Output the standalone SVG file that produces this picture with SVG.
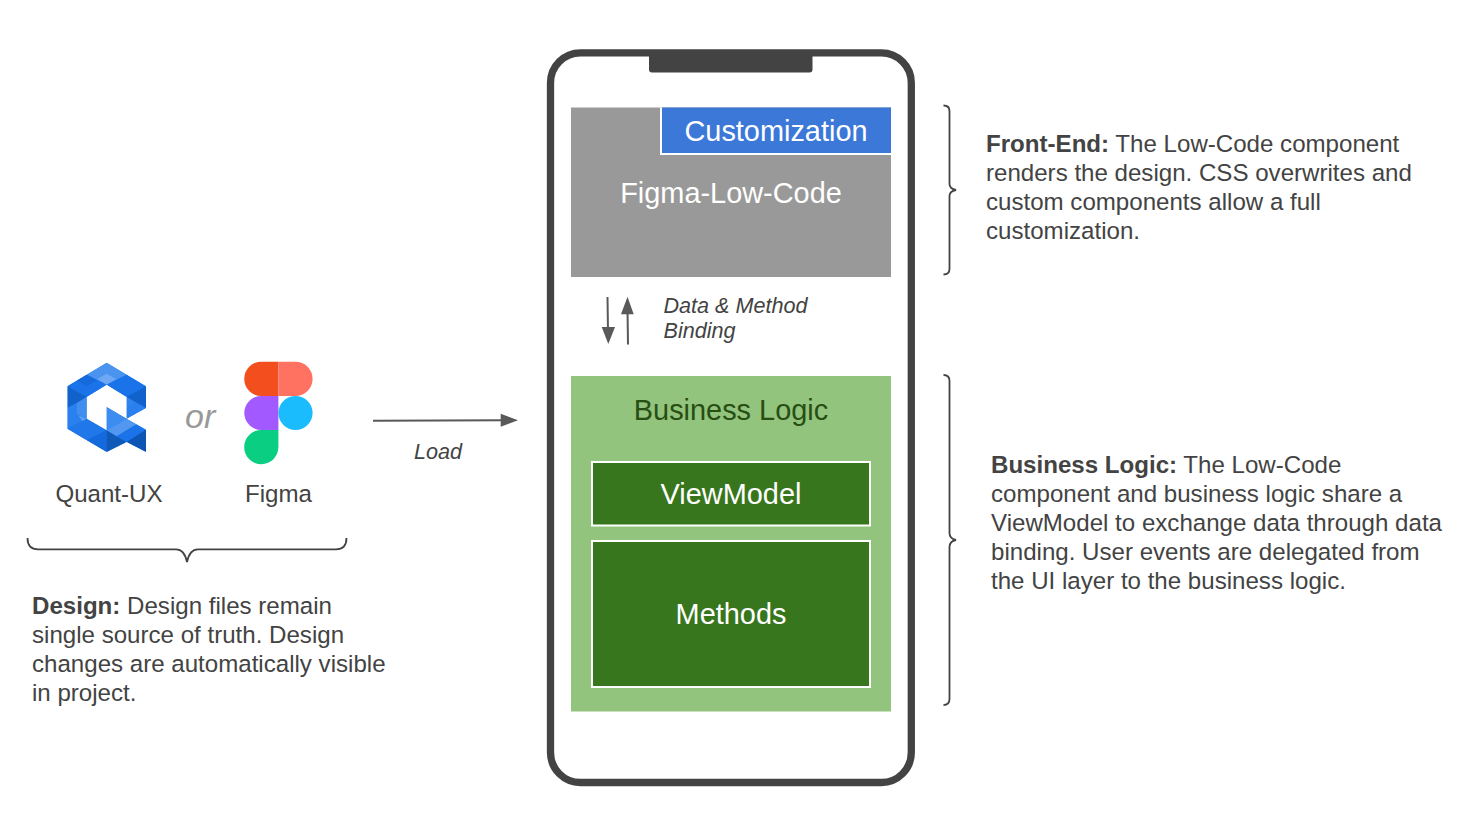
<svg xmlns="http://www.w3.org/2000/svg" width="1476" height="837" viewBox="0 0 1476 837">
<defs>
<style>
text{font-family:"Liberation Sans",Arial,sans-serif}
.body{font-size:24.1px;fill:#434343}
.body tspan.b{font-weight:bold}
.cap{font-size:24.1px;fill:#434343;text-anchor:middle}
.it{font-size:21.6px;fill:#434343;font-style:italic}
.w{font-size:28.9px;fill:#fff;text-anchor:middle}
.brace{fill:none;stroke:#434343;stroke-width:1.8}
.line{fill:none;stroke:#595959;stroke-width:2}
.head{fill:#595959;stroke:none}
.inner{fill:#38761d;stroke:#fff;stroke-width:2}
</style>
<clipPath id="q"><path clip-rule="evenodd" d="M140 17L258 88V153L200 185L258 218V285L200 255L140 285L22 215V88ZM140 83L80 120V185L140 220V150L200 185V120Z"/></clipPath>
</defs>
<rect width="1476" height="837" fill="#fff"/>
<g id="quant-ux">
<g transform="translate(60 357) scale(.33333)" clip-path="url(#q)">
<rect x="10" y="10" width="260" height="285" fill="#1f77ea"/>
<path fill="#4a94f0" d="M140 17L200 53L140 83L80 53Z"/>
<path fill="#6ea8f4" d="M140 50L168 66L140 83L112 66Z"/>
<path fill="#1a73e8" d="M80 53L140 83L80 120L22 88Z"/>
<path fill="#1669da" d="M80 53L110 70L80 88L50 70Z"/>
<path fill="#1a73e8" d="M200 53L258 88L200 120L140 83Z"/>
<path fill="#1262cc" d="M22 88L80 120L50 138L22 153Z"/>
<path fill="#1262cc" d="M258 88V153L200 120Z"/>
<path fill="#2f84ee" d="M200 120L228 137L200 153Z"/>
<path fill="#2a80ee" d="M200 153L228 137L258 153L200 185Z"/>
<path fill="#2a80ee" d="M22 153L50 138L50 170L80 185L22 215Z"/>
<path fill="#3f8ef0" d="M50 138L80 120V185L50 170Z"/>
<path fill="#5a9ff2" d="M55 175L80 185V212Z"/>
<path fill="#1f77ea" d="M22 215L80 185L140 220L80 250Z"/>
<path fill="#1469dc" d="M80 250L140 220V285Z"/>
<path fill="#0f5ab8" d="M140 220L200 255L140 285Z"/>
<path fill="#3d8cf0" d="M140 150L200 185L140 220Z"/>
<path fill="#5298f1" d="M200 185L230 202L170 238L140 220Z"/>
<path fill="#1a73e8" d="M230 202L258 218L200 255L170 238Z"/>
<path fill="#0c55b4" d="M258 218V285L200 255Z"/>
</g>
<text class="cap" x="109" y="502">Quant-UX</text>
</g>
<g id="or"><text x="185" y="428" font-size="34" font-style="italic" fill="#999">or</text></g>
<g id="figma">
<path fill="#f24e1e" d="M278.400 361.800V396H261.300A17.100 17.100 0 0 1 261.300 361.800Z"/>
<path fill="#ff7262" d="M278.400 361.800H295.500A17.100 17.100 0 0 1 295.500 396H278.400Z"/>
<path fill="#a259ff" d="M278.400 396V430H261.300A17 17 0 0 1 261.300 396Z"/>
<circle cx="295.500" cy="413" r="17.100" fill="#1abcfe"/>
<path fill="#0acf83" d="M261.300 430H278.400V447A17.100 17.100 0 1 1 261.300 430Z"/>
<text class="cap" x="278.500" y="502">Figma</text>
</g>
<g id="design-note">
<text class="body" x="32" y="614"><tspan class="b">Design:</tspan> Design files remain</text>
<text class="body" x="32" y="643">single source of truth. Design</text>
<text class="body" x="32" y="672">changes are automatically visible</text>
<text class="body" x="32" y="701">in project.</text>
</g>
<g id="phone">
<rect x="550.500" y="52.800" width="360.800" height="729.700" rx="30" fill="#fff" stroke="#434343" stroke-width="7.300"/>
<path fill="#434343" d="M649 56H812.500V69.500A3 3 0 0 1 809.500 72.500H652A3 3 0 0 1 649 69.500Z"/>
</g>
<g id="figma-low-code">
<rect x="571" y="107.500" width="320" height="169.500" fill="#999"/>
<text class="w" x="731" y="203">Figma-Low-Code</text>
</g>
<g id="customization">
<path fill="#3c78d8" d="M661.500 107.500H891V154H661.500Z"/>
<path fill="none" stroke="#fff" stroke-width="2" d="M661 107.500V154H891"/>
<text class="w" x="776" y="141">Customization</text>
</g>
<g id="binding-label">
<text class="it" x="663.500" y="313">Data &amp; Method</text>
<text class="it" x="663.500" y="338">Binding</text>
</g>
<g id="business-logic">
<rect x="571" y="376" width="320" height="335.500" fill="#93c47d"/>
<text x="731" y="420" font-size="28.900" fill="#274e13" text-anchor="middle">Business Logic</text>
</g>
<g id="viewmodel">
<rect class="inner" x="592" y="462" width="278" height="63.500"/>
<text class="w" x="731" y="504">ViewModel</text>
</g>
<g id="methods">
<rect class="inner" x="592" y="541" width="278" height="146"/>
<text class="w" x="731" y="624">Methods</text>
</g>
<g id="load-label"><text class="it" x="414" y="459">Load</text></g>
<g id="front-end-note">
<text class="body" x="986" y="152"><tspan class="b">Front-End:</tspan> The Low-Code component</text>
<text class="body" x="986" y="181">renders the design. CSS overwrites and</text>
<text class="body" x="986" y="210">custom components allow a full</text>
<text class="body" x="986" y="239">customization.</text>
</g>
<g id="business-note">
<text class="body" x="991" y="473"><tspan class="b">Business Logic:</tspan> The Low-Code</text>
<text class="body" x="991" y="502">component and business logic share a</text>
<text class="body" x="991" y="531">ViewModel to exchange data through data</text>
<text class="body" x="991" y="560">binding. User events are delegated from</text>
<text class="body" x="991" y="589">the UI layer to the business logic.</text>
</g>
<g id="connectors">
<path class="brace" d="M27.500 538C27.500 546 31 549.300 38 549.300H176C181 549.300 185 552 187 562C189 552 193 549.300 198 549.300H336C343 549.300 346.500 546 346.500 538"/>
<path class="brace" d="M943.500 105.500C947 105.500 949.500 107 949.500 111V184C949.500 187 951 189 956 190C951 191 949.500 193 949.500 196V269C949.500 273 947 274.500 943.500 274.500"/>
<path class="brace" d="M943.500 375C947 375 949.500 377 949.500 381V533C949.500 537 951 539 956 540C951 541 949.500 543 949.500 547V699C949.500 703 947 705 943.500 705"/>
<path class="line" d="M373 420.800L505 420.200"/>
<path class="head" d="M500.700 413.800L518 420.200L500.700 426.800Z"/>
<path class="line" d="M607.500 297L608 332"/>
<path class="head" d="M601.700 327H615L608.300 344Z"/>
<path class="line" d="M628 344.500L627.500 310"/>
<path class="head" d="M621 314.300H633.700L627.500 296.700Z"/>
</g>
</svg>
